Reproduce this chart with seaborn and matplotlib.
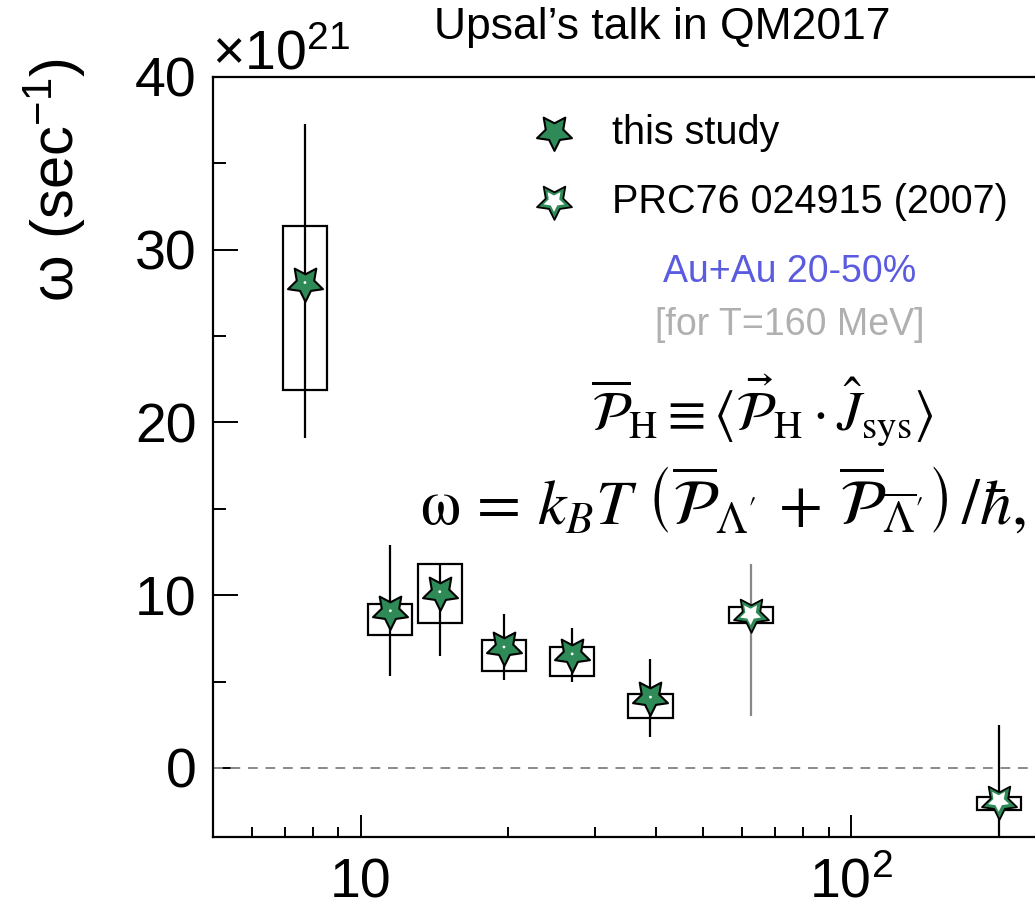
import numpy as np
import matplotlib
matplotlib.use("Agg")
import matplotlib.pyplot as plt
from matplotlib.ticker import FixedLocator, NullFormatter
import seaborn as sns
import pandas as pd

# ---------------- data (omega in units of 1e21 s^-1) ----------------
energy_this = [7.7, 11.5, 14.5, 19.6, 27.0, 39.0]
omega_this = [28.1, 9.1, 10.2, 7.0, 6.6, 4.1]
stat_lo_this = [19.1, 5.3, 6.5, 5.1, 5.0, 1.8]
stat_hi_this = [37.3, 12.9, 11.8, 8.9, 8.1, 6.3]
sys_lo_this = [21.9, 7.7, 8.4, 5.6, 5.3, 2.9]
sys_hi_this = [31.4, 9.5, 11.8, 7.4, 7.0, 4.3]

energy_prc = [62.4, 200.0]
omega_prc = [8.9, -1.9]
stat_lo_prc = [3.0, -6.4]
stat_hi_prc = [11.8, 2.5]
sys_lo_prc = [8.4, -2.45]
sys_hi_prc = [9.3, -1.7]

legend_labels = ["this study", "PRC76 024915 (2007)"]
x_ticks = [10, 100]
x_ticklabels = ["10", "10$^2$"]
y_ticks = [0, 10, 20, 30, 40]
y_ticklabels = ["0", "10", "20", "30", "40"]

df_this = pd.DataFrame({"energy": energy_this, "omega": omega_this})
df_prc = pd.DataFrame({"energy": energy_prc, "omega": omega_prc})

# ---------------- style ----------------
sns.set_theme(style="ticks")
plt.rcParams["font.family"] = ["Liberation Sans", "DejaVu Sans"]
plt.rcParams["mathtext.fontset"] = "custom"
plt.rcParams["mathtext.rm"] = "Liberation Sans"
plt.rcParams["mathtext.it"] = "Liberation Sans:italic"
plt.rcParams["mathtext.bf"] = "Liberation Sans:bold"
for k in ["text.color", "axes.labelcolor", "xtick.color", "ytick.color", "axes.edgecolor"]:
    plt.rcParams[k] = "black"

GREEN = "#2E8B57"
STAR = (5, 1, 180)

W, H = 1035, 919
fig = plt.figure(figsize=(W / 100, H / 100), dpi=100)
ax_left, ax_right, ax_top, ax_bottom = 213, 1085, 77, 837
ax = fig.add_axes([ax_left / W, 1 - ax_bottom / H, (ax_right - ax_left) / W, (ax_bottom - ax_top) / H])

ax.set_xscale("log")
ax.set_xlim(5, 300)
ax.set_ylim(-4, 40)

# zero line
ax.axhline(0, color="#8a8a8a", lw=1.4, ls=(0, (5, 4)), zorder=1)

# statistical error bars
ax.vlines(energy_this, stat_lo_this, stat_hi_this, color="black", lw=1.6, zorder=2)
ax.vlines(energy_prc, stat_lo_prc, stat_hi_prc, color=["#888888", "black"], lw=1.6, zorder=2)

# systematic boxes
half = 0.045
def boxes(xs, lo, hi):
    xs = np.asarray(xs, float)
    left = xs * 10 ** (-half)
    width = xs * 10 ** half - left
    ax.bar(left, np.asarray(hi) - np.asarray(lo), width=width, bottom=lo, align="edge",
           fill=False, edgecolor="black", linewidth=1.6, zorder=3)
boxes(energy_this, sys_lo_this, sys_hi_this)
boxes(energy_prc, sys_lo_prc, sys_hi_prc)

# markers
sns.scatterplot(data=df_this, x="energy", y="omega", ax=ax, marker=STAR, s=700,
                color=GREEN, edgecolor="black", linewidth=1.5, zorder=5, legend=False)
sns.scatterplot(data=df_this, x="energy", y="omega", ax=ax, marker="o", s=4,
                color="white", edgecolor="none", linewidth=0, zorder=6, legend=False)
sns.scatterplot(data=df_prc, x="energy", y="omega", ax=ax, marker=STAR, s=700,
                color=GREEN, edgecolor="black", linewidth=1.3, zorder=5, legend=False)
sns.scatterplot(data=df_prc, x="energy", y="omega", ax=ax, marker=STAR, s=250,
                color="white", edgecolor="none", linewidth=0, zorder=6, legend=False)

# axes styling
for side in ["left", "bottom", "top"]:
    ax.spines[side].set_linewidth(1.6)
    ax.spines[side].set_color("black")
ax.spines["right"].set_visible(False)

ax.set_xticks(x_ticks)
ax.set_xticklabels(x_ticklabels)
ax.xaxis.set_minor_locator(FixedLocator([6, 7, 8, 9, 20, 30, 40, 50, 60, 70, 80, 90, 200]))
ax.xaxis.set_minor_formatter(NullFormatter())
ax.set_yticks(y_ticks)
ax.set_yticklabels(y_ticklabels)
ax.yaxis.set_minor_locator(FixedLocator([5, 15, 25, 35]))

ax.tick_params(axis="both", which="both", direction="in", width=1.4, color="black",
               labelcolor="black", top=False, right=False)
ax.tick_params(axis="y", which="major", length=18, labelsize=40, pad=12)
ax.tick_params(axis="y", which="minor", length=9)
ax.tick_params(axis="x", which="major", length=16, labelsize=40, pad=15)
ax.tick_params(axis="x", which="minor", length=7.5)
ax.set_xlabel("")
ax.set_ylabel("")

# texts
def fpos(px, py):
    return px / W, 1 - py / H

fig.text(*fpos(55, 180), "ω (sec$^{-1}$)", rotation=90, ha="center", va="center", fontsize=43)
fig.text(*fpos(212, 70), "×10$^{21}$", ha="left", va="baseline", fontsize=40)
fig.text(*fpos(662, 28), "Upsal’s talk in QM2017", ha="center", va="center", fontsize=32)

# legend
def apos(px, py):
    return (px - ax_left) / (ax_right - ax_left), (ax_bottom - py) / (ax_bottom - ax_top)

ax.scatter(*apos(554, 132), transform=ax.transAxes, marker=STAR, s=700, color=GREEN,
           edgecolor="black", linewidth=1.5, zorder=7, clip_on=False)
ax.scatter(*apos(554, 201), transform=ax.transAxes, marker=STAR, s=700, color=GREEN,
           edgecolor="black", linewidth=1.3, zorder=7, clip_on=False)
ax.scatter(*apos(554, 201), transform=ax.transAxes, marker=STAR, s=250, color="white",
           edgecolor="none", zorder=8, clip_on=False)
fig.text(*fpos(612, 133), legend_labels[0], ha="left", va="center", fontsize=28.5)
fig.text(*fpos(612, 202), legend_labels[1], ha="left", va="center", fontsize=28.5)
fig.text(*fpos(790, 272), "Au+Au 20-50%", ha="center", va="center", fontsize=27, color="#5B5BE0")
fig.text(*fpos(790, 325), "[for T=160 MeV]", ha="center", va="center", fontsize=27, color="#B0B0B0")

fig.text(*fpos(762, 410),
         r"$\overline{\mathcal{P}}_{\rm H} \equiv \langle \vec{\mathcal{P}}_{\rm H} \cdot \hat{J}_{\rm sys} \rangle$",
         ha="center", va="center", fontsize=40, math_fontfamily="stix")
fig.text(*fpos(420, 502),
         r"$\mathrm{\omega}\, =\, k_B T\ \left(\overline{\mathcal{P}}_{\Lambda'}\, +\, \overline{\mathcal{P}}_{\overline{\Lambda}'}\right)\,/\hbar,$",
         ha="left", va="center", fontsize=46, math_fontfamily="stix")

fig.savefig("out.png", dpi=100)
